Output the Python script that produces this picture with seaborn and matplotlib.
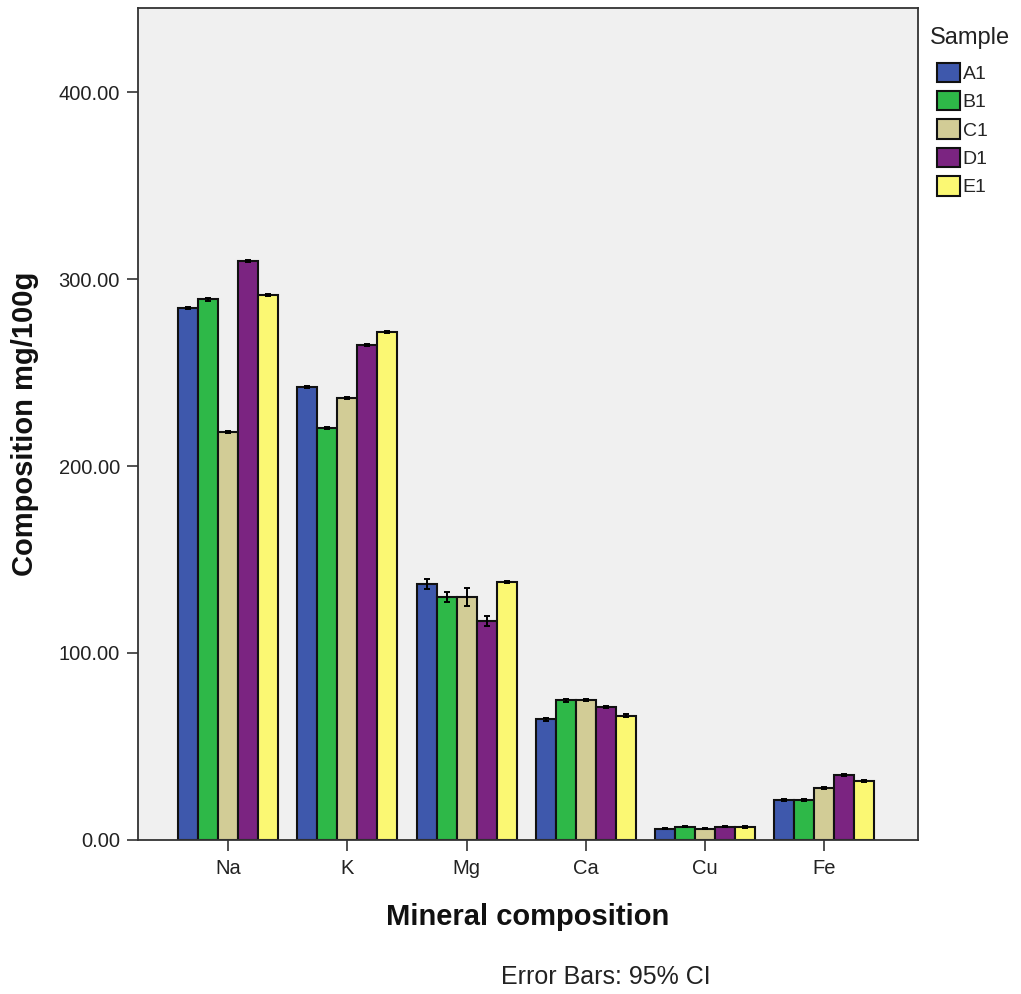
import numpy as np
import pandas as pd
import matplotlib
matplotlib.use("Agg")
import matplotlib.pyplot as plt
import seaborn as sns

minerals = ["Na", "K", "Mg", "Ca", "Cu", "Fe"]
samples = ["A1", "B1", "C1", "D1", "E1"]

# mean composition per sample, one list per mineral (A1..E1)
na = [284.5, 289.2, 218.2, 309.6, 291.3]
k = [242.2, 220.4, 236.4, 264.6, 271.6]
mg = [136.9, 130.0, 130.0, 117.0, 138.0]
ca = [64.6, 74.8, 74.8, 71.1, 66.3]
cu = [6.0, 7.0, 6.0, 7.0, 7.0]
fe = [21.3, 21.3, 27.8, 34.7, 31.6]

# 95% CI half widths
na_ci = [0.6, 0.8, 0.6, 0.6, 0.5]
k_ci = [0.6, 0.6, 0.6, 0.6, 0.6]
mg_ci = [2.6, 2.6, 4.8, 2.6, 0.6]
ca_ci = [0.8, 0.8, 0.6, 0.6, 0.8]
cu_ci = [0.3, 0.3, 0.3, 0.3, 0.5]
fe_ci = [0.6, 0.6, 0.6, 0.6, 0.6]

colors = ["#3E58AC", "#2EB848", "#D2CC96", "#7B2481", "#FBF873"]

means = [na, k, mg, ca, cu, fe]
cis = [na_ci, k_ci, mg_ci, ca_ci, cu_ci, fe_ci]
rows = []
for m, vals, errs in zip(minerals, means, cis):
    for s, v, e in zip(samples, vals, errs):
        rows.append({"Mineral": m, "Sample": s, "Value": v, "CI": e})
df = pd.DataFrame(rows)

sns.set_style("ticks")
plt.rcParams["font.family"] = ["Liberation Sans", "DejaVu Sans"]

fig = plt.figure(figsize=(10.21, 9.94), dpi=100)
ax = fig.add_axes([0.135, 0.155, 0.764, 0.837])
ax.set_facecolor("#F0F0F0")

sns.barplot(data=df, x="Mineral", y="Value", hue="Sample", order=minerals,
            hue_order=samples, palette=colors, width=0.84, errorbar=None,
            edgecolor="#111111", linewidth=1.5, saturation=1, ax=ax)

# error bars at the bar centres seaborn placed
bars = [p for p in ax.patches if p.get_height() > 0][:len(df)]
for i, s in enumerate(samples):
    for j, m in enumerate(minerals):
        p = bars[i * len(minerals) + j]
        r = df[(df.Sample == s) & (df.Mineral == m)].iloc[0]
        ax.errorbar(p.get_x() + p.get_width() / 2, r.Value, yerr=r.CI,
                    fmt="none", ecolor="black", elinewidth=1.4, capsize=2.5,
                    capthick=1.4)

ax.set_xlim(-0.76, 5.79)
ax.set_ylim(0, 445)
ax.set_yticks([0, 100, 200, 300, 400])
ax.set_yticklabels([f"{v:.2f}" for v in [0, 100, 200, 300, 400]])
ax.tick_params(axis="both", labelsize=14.5, length=8, width=1.2, colors="#333333",
               labelcolor="#222222", pad=5)
ax.tick_params(axis="x", pad=6)
for sp in ax.spines.values():
    sp.set_linewidth(1.3)
    sp.set_color("#333333")

ax.set_xlabel("Mineral composition", fontsize=21, fontweight="bold", labelpad=18,
              color="#111111")
ax.set_ylabel("Composition mg/100g", fontsize=21, fontweight="bold", labelpad=14,
              color="#111111")

# legend: title placed on its own, entries indented under it
handles, labels = ax.get_legend_handles_labels()
leg = fig.legend(handles, labels, loc="upper left",
                 bbox_to_anchor=(0.918, 0.937), frameon=False, fontsize=14,
                 handlelength=1.15, handleheight=1.15, handletextpad=0.15,
                 labelspacing=0.42, borderaxespad=0, borderpad=0)
ax.get_legend().remove() if ax.get_legend() else None
for h in leg.legend_handles:
    h.set_linewidth(1.5)
fig.text(0.911, 0.962, "Sample", ha="left", va="center", fontsize=17,
         color="#222222")

fig.text(0.593, 0.0105, "Error Bars: 95% CI", ha="center", fontsize=18,
         color="#222222")

fig.savefig("out.png", dpi=100)
